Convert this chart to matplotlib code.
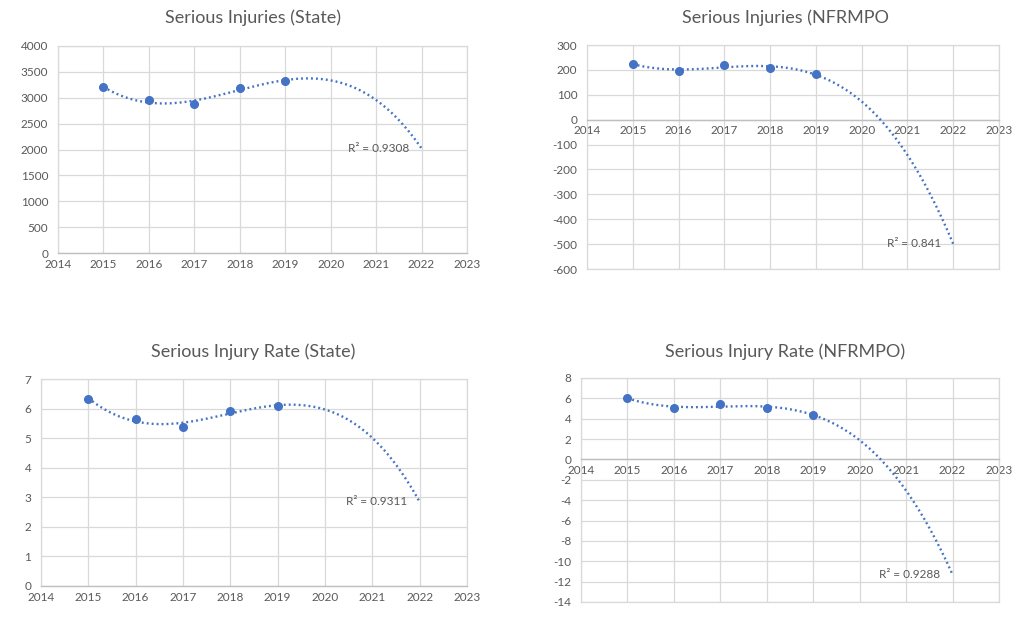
import numpy as np
import matplotlib
matplotlib.use("Agg")
import matplotlib.pyplot as plt

plt.rcParams['font.family'] = ['Lato', 'DejaVu Sans']

years = [2015, 2016, 2017, 2018, 2019]
serious_injuries_state = [3200, 2950, 2880, 3195, 3330]
serious_injuries_nfrmpo = [225, 195, 220, 208, 182]
injury_rate_state = [6.33, 5.66, 5.38, 5.93, 6.09]
injury_rate_nfrmpo = [6.05, 5.05, 5.40, 5.05, 4.40]

titles = ["Serious Injuries (State)", "Serious Injuries (NFRMPO",
          "Serious Injury Rate (State)", "Serious Injury Rate (NFRMPO)"]
r2_labels = ["R² = 0.9308", "R² = 0.841", "R² = 0.9311", "R² = 0.9288"]
x_ticks = list(range(2014, 2024))
y_ranges = [(0, 4000, 500), (-600, 300, 100), (0, 7, 1), (-14, 8, 2)]
forecast_end = 2022

W, H = 1018, 620
fig = plt.figure(figsize=(W / 100, H / 100), dpi=100)

# pixel boxes: left, right, top, bottom
boxes = [(58, 467, 46, 253), (587, 999, 45, 269), (41, 467, 379, 586), (581, 999, 378, 602)]
title_pos = [(253, 18), (785, 18), (253, 352), (785, 352)]
series = [serious_injuries_state, serious_injuries_nfrmpo, injury_rate_state, injury_rate_nfrmpo]

blue = "#4472C4"
grid = "#d9d9d9"
txt = "#595959"

for i in range(4):
    l, r, t, b = boxes[i]
    ax = fig.add_axes([l / W, (H - b) / H, (r - l) / W, (b - t) / H])
    lo, hi, step = y_ranges[i]
    ax.set_xlim(2014, 2023)
    ax.set_ylim(lo, hi)
    ax.set_xticks(x_ticks)
    ticks = np.arange(lo, hi + step / 2, step)
    ax.set_yticks(ticks)
    ax.set_yticklabels([f"{v:g}" for v in ticks])
    ax.grid(True, color=grid, linewidth=0.9)
    ax.set_axisbelow(True)
    for s in ['left', 'right', 'top']:
        ax.spines[s].set_color(grid)
        ax.spines[s].set_linewidth(0.9)
    ax.spines['bottom'].set_color("#bfbfbf")
    ax.spines['bottom'].set_linewidth(1.0)
    if lo < 0:
        ax.spines['bottom'].set_position(('data', 0))
        ax.axhline(lo, color=grid, linewidth=0.9, clip_on=False, zorder=0)
    ax.tick_params(length=0, labelsize=8.5, colors=txt, pad=7)
    ax.tick_params(axis='x', pad=4)

    vals = series[i]
    p = np.polynomial.Polynomial.fit(years, vals, 3)
    xs = np.linspace(years[0], forecast_end, 300)
    ax.plot(xs, p(xs), color=blue, linestyle=(0, (0.8, 1.3)), linewidth=1.7, zorder=3)
    ax.plot(years, vals, 'o', color=blue, markersize=5.5, zorder=4)
    ax.text(2021.73, p(forecast_end), r2_labels[i], ha='right', va='center',
            fontsize=8.5, color=txt, zorder=5)

    tx, ty = title_pos[i]
    fig.text(tx / W, 1 - ty / H, titles[i], ha='center', va='center', fontsize=13, color=txt)

fig.savefig("out.png", dpi=100)
